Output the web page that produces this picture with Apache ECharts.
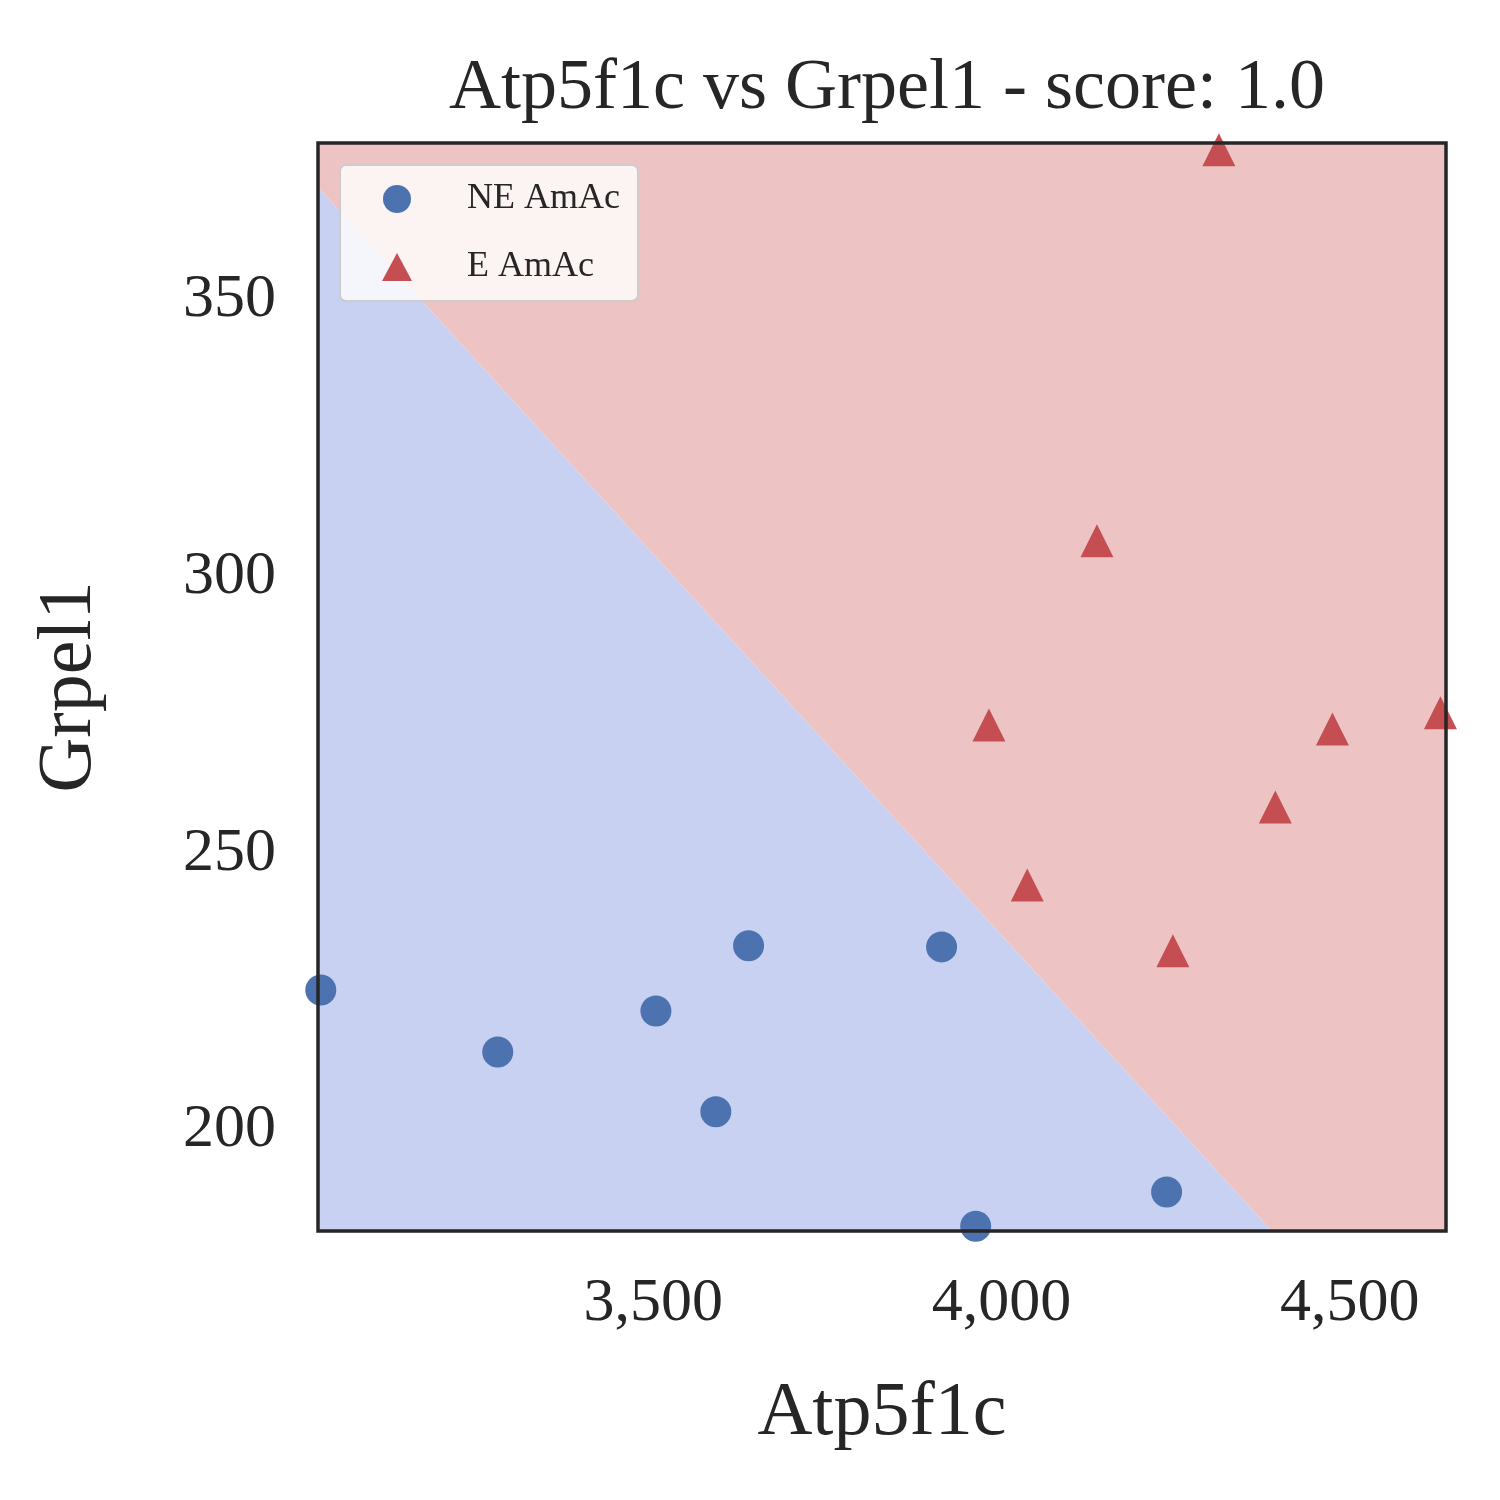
<!DOCTYPE html>
<html>
<head>
<meta charset="utf-8">
<script src="https://cdn.jsdelivr.net/npm/echarts@6/dist/echarts.min.js"></script>
<style>body{margin:0;background:#fff}#chart{width:1500px;height:1500px}</style>
</head>
<body>
<div id="chart"></div>
<script>
var xRange = [3019, 4638];
var yRange = [181.75, 378.4];
var xTicks = [3500, 4000, 4500];
var yTicks = [200, 250, 300, 350];
// decision boundary end points
var boundaryX = [3019, 4388];
var boundaryY = [370.4, 181.75];

var neData = [[3023, 225.3], [3277, 214.1], [3504, 221.5], [3637, 233.3], [3590, 203.3], [3914, 233.1], [3963, 182.6], [4237, 188.8]];
var eData = [[4312, 377.2], [4137, 306.5], [3982, 273.2], [4037, 244.3], [4246, 232.4], [4393, 258.4], [4475, 272.5], [4630, 275.4]];

var bluePoly = [[xRange[0], yRange[0]], [boundaryX[0], boundaryY[0]], [boundaryX[1], boundaryY[1]]];
var redPoly = [[boundaryX[0], boundaryY[0]], [xRange[0], yRange[1]], [xRange[1], yRange[1]], [xRange[1], yRange[0]], [boundaryX[1], boundaryY[1]]];

function polySeries(pts, color) {
	return {
		type: 'custom', silent: true, z: 1,
		data: [0],
		renderItem: function (params, api) {
			return {
				type: 'polygon',
				shape: { points: pts.map(function (p) { return api.coord(p); }) },
				style: { fill: color }
			};
		}
	};
}

var font = 'Liberation Serif';
var chart = echarts.init(document.getElementById('chart'));
chart.setOption({
	animation: false,
	title: {
		text: 'Atp5f1c vs Grpel1 - score: 1.0',
		left: 882, top: 48, textAlign: 'center',
		textStyle: { fontFamily: font, fontSize: 72, fontWeight: 'normal', color: '#262626' }
	},
	grid: { left: 318, top: 143, width: 1128, height: 1088, show: true, borderColor: '#262626', borderWidth: 3.5, z: 10 },
	xAxis: {
		type: 'value', min: xRange[0], max: xRange[1],
		name: 'Atp5f1c', nameLocation: 'middle', nameGap: 145,
		nameTextStyle: { fontFamily: font, fontSize: 76, color: '#262626' },
		axisLine: { show: false }, axisTick: { show: false }, splitLine: { show: false },
		axisLabel: { customValues: xTicks, fontFamily: font, fontSize: 62, color: '#262626', margin: 42 }
	},
	yAxis: {
		type: 'value', min: yRange[0], max: yRange[1],
		name: 'Grpel1', nameLocation: 'middle', nameGap: 210,
		nameTextStyle: { fontFamily: font, fontSize: 76, color: '#262626' },
		axisLine: { show: false }, axisTick: { show: false }, splitLine: { show: false },
		axisLabel: { customValues: yTicks, fontFamily: font, fontSize: 62, color: '#262626', margin: 42 }
	},
	legend: {
		orient: 'vertical', left: 340, top: 165,
		padding: [16, 18, 16, 42],
		backgroundColor: 'rgba(255,255,255,0.8)', borderColor: '#cccccc', borderWidth: 2, borderRadius: 6,
		itemWidth: 30, itemHeight: 28, itemGap: 32,
		textStyle: { fontFamily: font, fontSize: 36, color: '#262626', padding: [0, 0, 0, 50] },
		data: [{ name: 'NE AmAc', icon: 'circle' }, { name: 'E AmAc', icon: 'triangle' }]
	},
	series: [
		polySeries(bluePoly, '#c8d1f1'),
		polySeries(redPoly, '#edc4c3'),
		{ name: 'NE AmAc', type: 'scatter', z: 5, symbol: 'circle', symbolSize: 31, itemStyle: { color: '#4c72b0', opacity: 1 }, data: neData },
		{ name: 'E AmAc', type: 'scatter', z: 5, symbol: 'triangle', symbolSize: 33, itemStyle: { color: '#c44e52', opacity: 1 }, data: eData }
	]
});
</script>
</body>
</html>
